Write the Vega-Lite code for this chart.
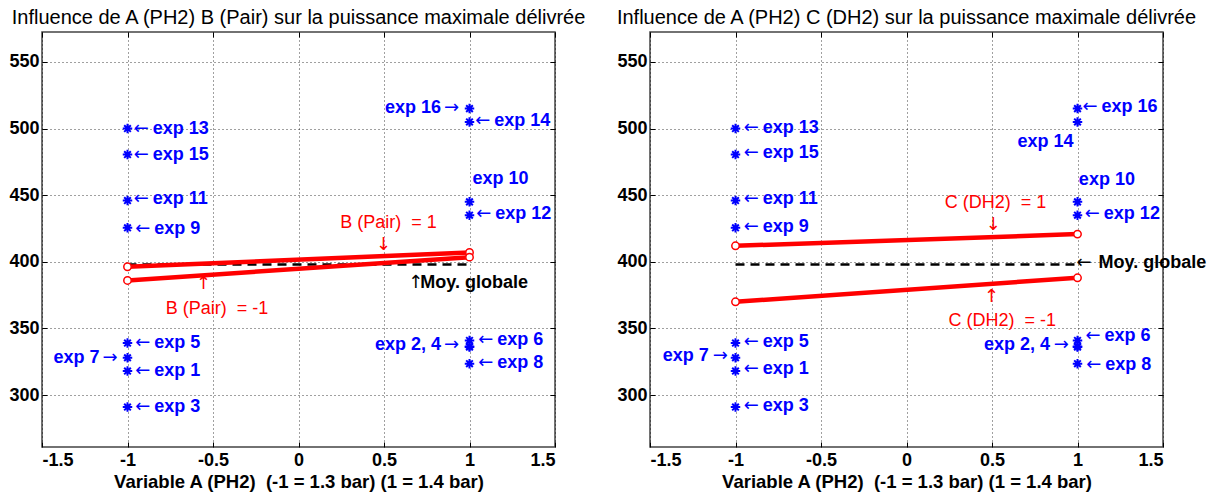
{
  "$schema": "https://vega.github.io/schema/vega-lite/v6.json",
  "background": "white",
  "padding": {"left": 8, "top": 6, "right": 5, "bottom": 5},
  "config": {
    "font": "Liberation Sans",
    "view": {"stroke": "#444444", "strokeWidth": 1.5},
    "axis": {
      "labelFont": "Liberation Sans", "labelFontSize": 18, "labelFontWeight": "bold", "labelColor": "black",
      "titleFont": "Liberation Sans", "titleFontSize": 18.5, "titleFontWeight": "bold", "titleColor": "black",
      "domain": false, "gridColor": "black", "gridDash": [1, 3], "gridOpacity": 0.75, "gridWidth": 1,
      "tickColor": "black", "tickSize": -5, "tickWidth": 1, "labelExpr": "'' + datum.value"
    },
    "title": {"font": "Liberation Sans", "fontSize": 20, "fontWeight": "normal", "color": "black", "offset": 4}
  },
  "datasets": {
    "exps": [
      {"exp": 1, "A": -1, "P": 318}, {"exp": 2, "A": 1, "P": 336.5}, {"exp": 3, "A": -1, "P": 291},
      {"exp": 4, "A": 1, "P": 336}, {"exp": 5, "A": -1, "P": 339}, {"exp": 6, "A": 1, "P": 341},
      {"exp": 7, "A": -1, "P": 328}, {"exp": 8, "A": 1, "P": 323.5}, {"exp": 9, "A": -1, "P": 425.5},
      {"exp": 10, "A": 1, "P": 445}, {"exp": 11, "A": -1, "P": 446}, {"exp": 12, "A": 1, "P": 435},
      {"exp": 13, "A": -1, "P": 500}, {"exp": 14, "A": 1, "P": 505}, {"exp": 15, "A": -1, "P": 480.5},
      {"exp": 16, "A": 1, "P": 515}
    ],
    "mean": [{"A": -1, "P": 398}, {"A": 1, "P": 398}],
    "linesB": [
      {"level": "1", "A": -1, "P": 396.3}, {"level": "1", "A": 1, "P": 407},
      {"level": "-1", "A": -1, "P": 386}, {"level": "-1", "A": 1, "P": 403.5}
    ],
    "linesC": [
      {"level": "1", "A": -1, "P": 412}, {"level": "1", "A": 1, "P": 420.8},
      {"level": "-1", "A": -1, "P": 370}, {"level": "-1", "A": 1, "P": 388}
    ],
    "p1_la": [
      {"A": -0.964, "P": 500, "label": "exp 13"},
      {"A": -0.964, "P": 480.5, "label": "exp 15"},
      {"A": -0.964, "P": 446.8, "label": "exp 11"},
      {"A": -0.955, "P": 425, "label": "exp 9"},
      {"A": -0.955, "P": 338.8, "label": "exp 5"},
      {"A": -0.955, "P": 318, "label": "exp 1"},
      {"A": -0.955, "P": 290.8, "label": "exp 3"},
      {"A": 1.033, "P": 505.8, "label": "exp 14"},
      {"A": 1.04, "P": 435.8, "label": "exp 12"},
      {"A": 1.051, "P": 341.3, "label": "exp 6"},
      {"A": 1.051, "P": 324.3, "label": "exp 8"}
    ],
    "p1_ra": [
      {"A": -1.058, "P": 327.5, "label": "exp 7"},
      {"A": 0.939, "P": 515.8, "label": "exp 16\u00a0"},
      {"A": 0.939, "P": 337.5, "label": "exp 2, 4"}
    ],
    "p1_plain": [
      {"A": 1.017, "P": 462.5, "label": "exp 10"}
    ],
    "p1_fx": [
      {"A": 0.526, "P": 428.8, "label": "B (Pair)\u00a0\u00a0= 1"},
      {"A": -0.477, "P": 364.3, "label": "B (Pair)\u00a0\u00a0= -1"}
    ],
    "p1_fxarrow": [
      {"A": 0.497, "P": 412.5, "label": "↓"},
      {"A": -0.555, "P": 383, "label": "↑"}
    ],
    "p1_mean": [
      {"A": 0.642, "P": 384.3, "label": "Moy. globale"}
    ],
    "p2_la": [
      {"A": -0.952, "P": 500.8, "label": "exp 13"},
      {"A": -0.952, "P": 482, "label": "exp 15"},
      {"A": -0.952, "P": 447.5, "label": "exp 11"},
      {"A": -0.952, "P": 426.3, "label": "exp 9"},
      {"A": -0.952, "P": 340, "label": "exp 5"},
      {"A": -0.952, "P": 319.3, "label": "exp 1"},
      {"A": -0.952, "P": 291.8, "label": "exp 3"},
      {"A": 1.029, "P": 516.3, "label": "exp 16"},
      {"A": 1.043, "P": 435.8, "label": "exp 12"},
      {"A": 1.047, "P": 344.3, "label": "exp 6"},
      {"A": 1.051, "P": 322.5, "label": "exp 8"}
    ],
    "p2_ra": [
      {"A": -1.045, "P": 329.3, "label": "exp 7"},
      {"A": 0.95, "P": 337.5, "label": "exp 2, 4"}
    ],
    "p2_plain": [
      {"A": 1.008, "P": 461.3, "label": "exp 10"},
      {"A": 0.649, "P": 490, "label": "exp 14"}
    ],
    "p2_fx": [
      {"A": 0.521, "P": 444.3, "label": "C (DH2)\u00a0\u00a0= 1"},
      {"A": 0.56, "P": 355.8, "label": "C (DH2)\u00a0\u00a0= -1"}
    ],
    "p2_fxarrow": [
      {"A": 0.508, "P": 427.5, "label": "↓"},
      {"A": 0.498, "P": 373.5, "label": "↑"}
    ],
    "p2_mean": [
      {"A": 0.994, "P": 399.3, "label": "Moy. globale"}
    ]
  },
  "spacing": 95,
  "bounds": "flush",
  "hconcat": [
    {
      "width": 513, "height": 415,
      "title": {"text": "Influence de A (PH2) B (Pair) sur la puissance maximale délivrée"},
      "resolve": {"axis": {"x": "independent", "y": "independent"}},
      "layer": [
        {
          "encoding": {
            "x": {"field": "A", "type": "quantitative",
                  "scale": {"domain": [-1.5, 1.5], "nice": false, "zero": false},
                  "axis": {"values": [-1.5, -1, -0.5, 0, 0.5, 1, 1.5], "labelPadding": 9, "titlePadding": 3.5,
                           "title": "Variable A (PH2)\u00a0\u00a0(-1 = 1.3 bar) (1 = 1.4 bar)"}},
            "y": {"field": "P", "type": "quantitative",
                  "scale": {"domain": [261, 572.5], "nice": false, "zero": false},
                  "axis": {"values": [300, 350, 400, 450, 500, 550], "labelPadding": 8, "title": null}}
          },
          "layer": [
            {"data": {"name": "mean"}, "mark": {"type": "line", "color": "black", "strokeWidth": 2.5, "strokeDash": [9, 6]}},
            {"data": {"name": "linesB"}, "mark": {"type": "line", "color": "#ff0000", "strokeWidth": 4.5},
             "encoding": {"detail": {"field": "level"}}},
            {"data": {"name": "linesB"}, "mark": {"type": "point", "shape": "circle", "filled": true, "fill": "white", "stroke": "#ff0000", "strokeWidth": 1.5, "size": 55, "opacity": 1}},
            {"data": {"name": "exps"}, "mark": {"type": "point", "shape": "M-1,0L1,0M0,-1L0,1M-0.7,-0.7L0.7,0.7M-0.7,0.7L0.7,-0.7", "filled": false, "color": "#0000ff", "strokeWidth": 2, "size": 90, "opacity": 1}},
            {"data": {"name": "p1_la"}, "mark": {"type": "text", "text": "←", "font": "DejaVu Sans", "align": "left", "baseline": "middle", "fontSize": 18, "color": "#0000ff"}},
            {"data": {"name": "p1_la"}, "mark": {"type": "text", "align": "left", "baseline": "middle", "dx": 19, "fontSize": 18, "fontWeight": "bold", "color": "#0000ff"},
             "encoding": {"text": {"field": "label"}}},
            {"data": {"name": "p1_ra"}, "mark": {"type": "text", "text": "→", "font": "DejaVu Sans", "align": "right", "baseline": "middle", "fontSize": 18, "color": "#0000ff"}},
            {"data": {"name": "p1_ra"}, "mark": {"type": "text", "align": "right", "baseline": "middle", "dx": -18, "fontSize": 18, "fontWeight": "bold", "color": "#0000ff"},
             "encoding": {"text": {"field": "label"}}},
            {"data": {"name": "p1_plain"}, "mark": {"type": "text", "align": "left", "baseline": "middle", "fontSize": 18, "fontWeight": "bold", "color": "#0000ff"},
             "encoding": {"text": {"field": "label"}}},
            {"data": {"name": "p1_fx"}, "mark": {"type": "text", "align": "center", "baseline": "middle", "fontSize": 18, "fontWeight": "normal", "color": "#ff0000"},
             "encoding": {"text": {"field": "label"}}},
            {"data": {"name": "p1_fxarrow"}, "mark": {"type": "text", "font": "DejaVu Sans", "align": "center", "baseline": "middle", "fontSize": 18, "color": "#ff0000"},
             "encoding": {"text": {"field": "label"}}},
            {"data": {"name": "p1_mean"}, "mark": {"type": "text", "text": "↑", "font": "DejaVu Sans", "align": "left", "baseline": "middle", "fontSize": 18, "color": "black"}},
            {"data": {"name": "p1_mean"}, "mark": {"type": "text", "align": "left", "baseline": "middle", "dx": 12, "fontSize": 18, "fontWeight": "bold", "color": "black"},
             "encoding": {"text": {"field": "label"}}}
          ]
        },
        {
          "data": {"name": "mean"},
          "mark": {"type": "point", "opacity": 0},
          "encoding": {
            "x": {"field": "A", "type": "quantitative", "scale": {"domain": [-1.5, 1.5], "nice": false, "zero": false},
                  "axis": {"orient": "top", "values": [-1.5, -1, -0.5, 0, 0.5, 1, 1.5], "labels": false, "grid": false, "title": null}},
            "y": {"field": "P", "type": "quantitative", "scale": {"domain": [261, 572.5], "nice": false, "zero": false},
                  "axis": {"orient": "right", "values": [300, 350, 400, 450, 500, 550], "labels": false, "grid": false, "title": null}}
          }
        }
      ]
    },
    {
      "width": 513, "height": 415,
      "title": {"text": "Influence de A (PH2) C (DH2) sur la puissance maximale délivrée"},
      "resolve": {"axis": {"x": "independent", "y": "independent"}},
      "layer": [
        {
          "encoding": {
            "x": {"field": "A", "type": "quantitative",
                  "scale": {"domain": [-1.5, 1.5], "nice": false, "zero": false},
                  "axis": {"values": [-1.5, -1, -0.5, 0, 0.5, 1, 1.5], "labelPadding": 9, "titlePadding": 3.5,
                           "title": "Variable A (PH2)\u00a0\u00a0(-1 = 1.3 bar) (1 = 1.4 bar)"}},
            "y": {"field": "P", "type": "quantitative",
                  "scale": {"domain": [261, 572.5], "nice": false, "zero": false},
                  "axis": {"values": [300, 350, 400, 450, 500, 550], "labelPadding": 8, "title": null}}
          },
          "layer": [
            {"data": {"name": "mean"}, "mark": {"type": "line", "color": "black", "strokeWidth": 2.5, "strokeDash": [9, 6]}},
            {"data": {"name": "linesC"}, "mark": {"type": "line", "color": "#ff0000", "strokeWidth": 4.5},
             "encoding": {"detail": {"field": "level"}}},
            {"data": {"name": "linesC"}, "mark": {"type": "point", "shape": "circle", "filled": true, "fill": "white", "stroke": "#ff0000", "strokeWidth": 1.5, "size": 55, "opacity": 1}},
            {"data": {"name": "exps"}, "mark": {"type": "point", "shape": "M-1,0L1,0M0,-1L0,1M-0.7,-0.7L0.7,0.7M-0.7,0.7L0.7,-0.7", "filled": false, "color": "#0000ff", "strokeWidth": 2, "size": 90, "opacity": 1}},
            {"data": {"name": "p2_la"}, "mark": {"type": "text", "text": "←", "font": "DejaVu Sans", "align": "left", "baseline": "middle", "fontSize": 18, "color": "#0000ff"}},
            {"data": {"name": "p2_la"}, "mark": {"type": "text", "align": "left", "baseline": "middle", "dx": 19, "fontSize": 18, "fontWeight": "bold", "color": "#0000ff"},
             "encoding": {"text": {"field": "label"}}},
            {"data": {"name": "p2_ra"}, "mark": {"type": "text", "text": "→", "font": "DejaVu Sans", "align": "right", "baseline": "middle", "fontSize": 18, "color": "#0000ff"}},
            {"data": {"name": "p2_ra"}, "mark": {"type": "text", "align": "right", "baseline": "middle", "dx": -19, "fontSize": 18, "fontWeight": "bold", "color": "#0000ff"},
             "encoding": {"text": {"field": "label"}}},
            {"data": {"name": "p2_plain"}, "mark": {"type": "text", "align": "left", "baseline": "middle", "fontSize": 18, "fontWeight": "bold", "color": "#0000ff"},
             "encoding": {"text": {"field": "label"}}},
            {"data": {"name": "p2_fx"}, "mark": {"type": "text", "align": "center", "baseline": "middle", "fontSize": 18, "fontWeight": "normal", "color": "#ff0000"},
             "encoding": {"text": {"field": "label"}}},
            {"data": {"name": "p2_fxarrow"}, "mark": {"type": "text", "font": "DejaVu Sans", "align": "center", "baseline": "middle", "fontSize": 18, "color": "#ff0000"},
             "encoding": {"text": {"field": "label"}}},
            {"data": {"name": "p2_mean"}, "mark": {"type": "text", "text": "←", "font": "DejaVu Sans", "align": "left", "baseline": "middle", "fontSize": 18, "color": "black"}},
            {"data": {"name": "p2_mean"}, "mark": {"type": "text", "align": "left", "baseline": "middle", "dx": 22, "fontSize": 18, "fontWeight": "bold", "color": "black"},
             "encoding": {"text": {"field": "label"}}}
          ]
        },
        {
          "data": {"name": "mean"},
          "mark": {"type": "point", "opacity": 0},
          "encoding": {
            "x": {"field": "A", "type": "quantitative", "scale": {"domain": [-1.5, 1.5], "nice": false, "zero": false},
                  "axis": {"orient": "top", "values": [-1.5, -1, -0.5, 0, 0.5, 1, 1.5], "labels": false, "grid": false, "title": null}},
            "y": {"field": "P", "type": "quantitative", "scale": {"domain": [261, 572.5], "nice": false, "zero": false},
                  "axis": {"orient": "right", "values": [300, 350, 400, 450, 500, 550], "labels": false, "grid": false, "title": null}}
          }
        }
      ]
    }
  ]
}
